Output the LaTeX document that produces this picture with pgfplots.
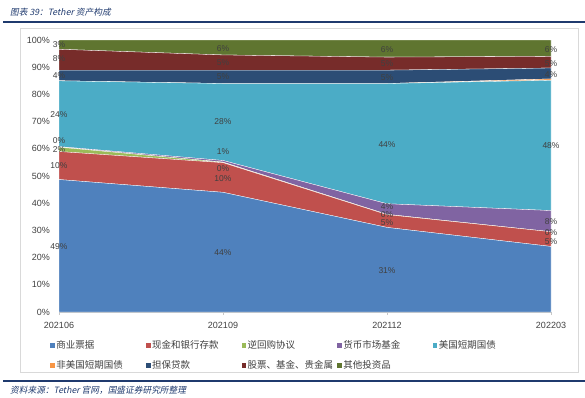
\documentclass[border=0pt]{standalone}
\usepackage{pgfplots}
\pgfplotsset{compat=1.18}
\usepackage{fontspec}
\setmainfont{Liberation Sans}
\newfontfamily\cjk{Noto Sans CJK SC}
\newfontfamily\cjkit[FakeSlant=0.2]{Noto Sans CJK SC}
\definecolor{cCP}{HTML}{4F81BD}
\definecolor{cCash}{HTML}{C0504D}
\definecolor{cRepo}{HTML}{9BBB59}
\definecolor{cMMF}{HTML}{8064A2}
\definecolor{cUST}{HTML}{4BACC6}
\definecolor{cNon}{HTML}{F79646}
\definecolor{cSec}{HTML}{2C4D75}
\definecolor{cStk}{HTML}{772C2A}
\definecolor{cOth}{HTML}{5F7530}
\definecolor{navy}{HTML}{1F3A6E}
\definecolor{lbl}{HTML}{404040}
\definecolor{framegray}{HTML}{D9D9D9}
\begin{document}
\begin{tikzpicture}[x=1pt,y=1pt]
\path[use as bounding box] (0,0) rectangle (585,397);
% header and footer
\draw[navy, line width=1.2pt] (3,375) -- (585,375);
\node[anchor=west, inner sep=0pt, text=navy, font=\cjkit\fontsize{8.7}{9}\selectfont] at (10,385) {图表 39：Tether 资产构成};
\draw[navy, line width=1.2pt] (3,16) -- (585,16);
\node[anchor=west, inner sep=0pt, text=navy, font=\cjkit\fontsize{8.7}{9}\selectfont] at (10,7) {资料来源：Tether 官网，国盛证券研究所整理};
% chart frame
\draw[framegray, line width=0.6pt] (20,25) rectangle (578,369);
\begin{axis}[
  at={(59pt,85pt)}, anchor=south west,
  width=492pt, height=272pt, scale only axis,
  xmin=0, xmax=3, ymin=0, ymax=100,
  stack plots=y,
  axis x line*=bottom, axis y line*=left,
  x axis line style={draw=framegray!80!gray, line width=0.6pt},
  y axis line style={draw=none},
  xtick={0,1,2,3},
  xticklabels={202106,202109,202112,202203},
  ytick={0,10,...,100},
  yticklabels={0\%,10\%,20\%,30\%,40\%,50\%,60\%,70\%,80\%,90\%,100\%},
  tick align=outside,
  major tick length=3pt,
  xtick style={draw=framegray!80!gray, line width=0.6pt},
  ytick style={draw=none},
  ticklabel style={font=\fontsize{9}{10}\selectfont, text=lbl},
  yticklabel style={inner sep=0pt, xshift=-6pt},
  xticklabel style={inner sep=0pt, yshift=-7pt},
  legend columns=5,
  legend cell align=left,
  legend image code/.code={\fill[#1,draw=none] (0pt,-2.3pt) rectangle (4.6pt,2.3pt);},
  legend style={at={(-0.0175,-0.099)}, anchor=north west, draw=none, fill=none,
    inner sep=0pt, outer sep=0pt, row sep=7.5pt,
    font=\cjk\fontsize{9.5}{10}\selectfont, text=lbl,
    nodes={text width=88pt, align=left, inner sep=1.5pt}},
  clip=false,
]
\addplot[fill=cCP, draw=white, line width=0.3pt] coordinates {(0,48.7) (1,44.0) (2,31.1) (3,24.1)} \closedcycle;
\addlegendentry{商业票据}
\addplot[fill=cCash, draw=white, line width=0.3pt] coordinates {(0,10.3) (1,10.9) (2,4.7) (3,5.4)} \closedcycle;
\addlegendentry{现金和银行存款}
\addplot[fill=cRepo, draw=white, line width=0.3pt] coordinates {(0,1.6) (1,0.2) (2,0.1) (3,0.0)} \closedcycle;
\addlegendentry{逆回购协议}
\addplot[fill=cMMF, draw=white, line width=0.3pt] coordinates {(0,0.2) (1,0.6) (2,3.9) (3,7.8)} \closedcycle;
\addlegendentry{货币市场基金}
\addplot[fill=cUST, draw=white, line width=0.3pt] coordinates {(0,24.2) (1,28.3) (2,44.2) (3,47.9)} \closedcycle;
\addlegendentry{美国短期国债}
\addplot[fill=cNon, draw=white, line width=0.3pt] coordinates {(0,0.0) (1,0.0) (2,0.0) (3,0.5)} \closedcycle;
\addlegendentry{非美国短期国债}
\addplot[fill=cSec, draw=white, line width=0.3pt] coordinates {(0,3.9) (1,4.9) (2,4.9) (3,4.0)} \closedcycle;
\addlegendentry{担保贷款}
\addplot[fill=cStk, draw=white, line width=0.3pt] coordinates {(0,7.7) (1,5.6) (2,4.8) (3,4.3)} \closedcycle;
\addlegendentry{股票、基金、贵金属}
\addplot[fill=cOth, draw=white, line width=0.3pt] coordinates {(0,3.4) (1,5.5) (2,6.3) (3,6.0)} \closedcycle;
\addlegendentry{其他投资品}
\end{axis}
\begin{axis}[
  at={(59pt,85pt)}, anchor=south west,
  width=492pt, height=272pt, scale only axis,
  xmin=0, xmax=3, ymin=0, ymax=100,
  hide axis, clip=false,
  nodes near coords,
  point meta=explicit symbolic,
  nodes near coords align=center,
  every node near coord/.append style={font=\fontsize{8.5}{9}\selectfont, text=lbl, inner sep=0pt, anchor=center},
]
\addplot[draw=none, mark=none] coordinates {
 (0,24.0)[49\%] (0,53.9)[10\%] (0,59.8)[2\%] (0,63.1)[0\%] (0,72.7)[24\%] (0,87.1)[4\%] (0,93.0)[8\%] (0,98.5)[3\%]
 (1,21.8)[44\%] (1,49.2)[10\%] (1,52.8)[0\%] (1,58.8)[1\%] (1,70.1)[28\%] (1,86.5)[5\%] (1,91.6)[5\%] (1,97.0)[6\%]
 (2,15.1)[31\%] (2,32.8)[5\%] (2,35.7)[0\%] (2,38.6)[4\%] (2,61.5)[44\%] (2,86.1)[5\%] (2,91.4)[5\%] (2,96.6)[6\%]
 (3,26.0)[5\%] (3,29.3)[0\%] (3,33.2)[8\%] (3,61.3)[48\%] (3,87.3)[4\%] (3,91.4)[5\%] (3,96.3)[6\%]
};
\end{axis}
\end{tikzpicture}
\end{document}
